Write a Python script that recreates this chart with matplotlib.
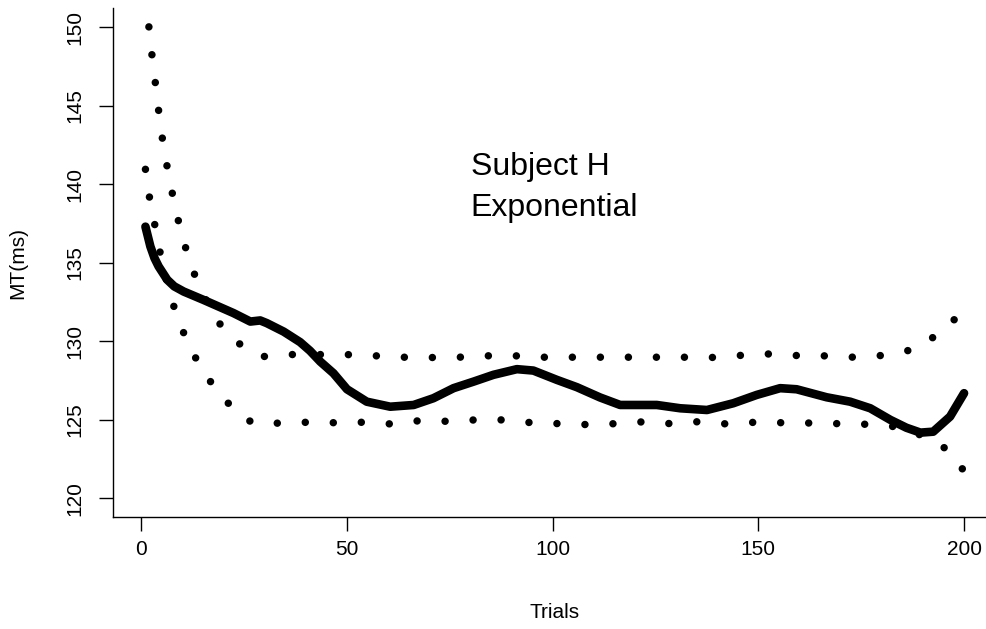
import matplotlib
matplotlib.use("Agg")
import matplotlib.pyplot as plt

plt.rcParams['font.family'] = ['Liberation Sans', 'DejaVu Sans']
plt.rcParams['lines.scale_dashes'] = False

# Solid fitted curve (trial, MT)
fit_t = [1, 2.2, 3.2, 4.2, 6.3, 8.0, 10.3, 15.1, 18.4, 22.4, 26.5, 28.9, 30.5, 34.6, 38.6,
         41.0, 43.5, 46.7, 50.0, 54.8, 60.5, 66.2, 71.0, 75.9, 80.8, 85.6, 91.3, 95.3,
         101.0, 105.9, 111.5, 116.4, 125.3, 131.0, 137.5, 143.9, 149.6, 155.3, 159.3,
         166.6, 172.3, 177.2, 182.1, 186.0, 189.4, 192.5, 196.6, 200]
fit_v = [137.3, 136.04, 135.3, 134.77, 133.92, 133.5, 133.17, 132.64, 132.26, 131.8,
         131.26, 131.33, 131.16, 130.62, 129.95, 129.4, 128.71, 127.97, 126.95, 126.16,
         125.84, 125.95, 126.38, 127.02, 127.44, 127.87, 128.23, 128.14, 127.55, 127.08,
         126.43, 125.95, 125.95, 125.74, 125.63, 126.06, 126.59, 127.02, 126.95, 126.44,
         126.16, 125.74, 125.0, 124.5, 124.19, 124.25, 125.21, 126.7]

# Upper dotted bound
up_t = [1, 1.77, 2.5, 3.33, 4.13, 5.03, 6.15, 7.46, 8.92, 10.69, 12.88, 15.55, 19.03,
        23.89, 29.48, 36.28, 43.0, 49.8, 56.9, 63.6, 70.3, 77.2, 84.0, 90.8, 97.6,
        104.4, 111.2, 118.0, 124.9, 131.7, 138.5, 145.3, 152.1, 158.9, 165.7, 172.5,
        179.3, 186.1, 192.2, 197.3, 200]
up_v = [152.2, 150.19, 148.41, 146.62, 144.84, 143.05, 141.29, 139.51, 137.76, 136.02,
        134.3, 132.71, 131.13, 129.84, 129.03, 129.16, 129.16, 129.16, 129.08, 128.99,
        128.97, 128.99, 129.08, 129.08, 128.99, 128.99, 128.99, 128.99, 128.99, 128.99,
        128.97, 129.1, 129.2, 129.1, 129.08, 128.99, 129.08, 129.38, 130.2, 131.3, 132.0]

# Lower dotted bound
lo_t = [1, 2.02, 3.33, 4.62, 6.15, 8.02, 10.45, 13.44, 17.18, 21.56, 26.9, 33.5, 40.4,
        47.2, 54.0, 60.8, 67.6, 74.4, 81.2, 88.1, 94.9, 101.7, 108.5, 115.3, 122.1,
        128.8, 135.6, 142.4, 149.2, 156.0, 162.8, 169.6, 176.4, 183.2, 189.3, 195.6, 200]
lo_v = [140.95, 139.1, 137.34, 135.58, 133.86, 132.12, 130.43, 128.82, 127.29, 125.93,
        124.82, 124.79, 124.85, 124.82, 124.85, 124.74, 124.95, 124.91, 125.0, 125.0,
        124.82, 124.76, 124.7, 124.76, 124.88, 124.76, 124.89, 124.74, 124.85, 124.82,
        124.8, 124.76, 124.72, 124.57, 124.05, 123.17, 121.75]

x_ticks = [0, 50, 100, 150, 200]
y_ticks = [120, 125, 130, 135, 140, 145, 150]
title_lines = ["Subject H", "Exponential"]

W, H = 987, 629
fig = plt.figure(figsize=(W / 100, H / 100), dpi=100)
left, right, bottom, top = 112.7, 996.8, 517.3, 8.3
ax = fig.add_axes([left / W, (H - bottom) / H, (right - left) / W, (bottom - top) / H])
ax.set_xlim(-6.96, 207.96)
ax.set_ylim(118.8, 151.2)

dot = (0, (0.01, 20.16))
ax.plot(up_t, up_v, color='black', lw=5.4, linestyle=dot, dash_capstyle='round')
ax.plot(lo_t, lo_v, color='black', lw=5.4, linestyle=dot, dash_capstyle='round')
ax.plot(fit_t, fit_v, color='black', lw=6.2, solid_capstyle='round', solid_joinstyle='round')

ax.spines['top'].set_visible(False)
ax.spines['right'].set_visible(False)
for s in ('left', 'bottom'):
    ax.spines[s].set_linewidth(1.0)
ax.set_xticks(x_ticks)
ax.set_yticks(y_ticks)
ax.set_yticklabels([str(v) for v in y_ticks], rotation=90, va='center')
ax.tick_params(axis='both', direction='out', length=10, width=1.0, labelsize=15)
ax.tick_params(axis='x', pad=6)
ax.tick_params(axis='y', pad=10.5)
ax.set_xlabel("Trials", fontsize=15, labelpad=32)
ax.set_ylabel("MT(ms)", fontsize=15, labelpad=27)

ax.text(97.0, 140.59, title_lines[0], fontsize=23, ha='center', va='baseline')
ax.text(100.4, 137.98, title_lines[1], fontsize=23, ha='center', va='baseline')

fig.savefig("out.png", dpi=100)
